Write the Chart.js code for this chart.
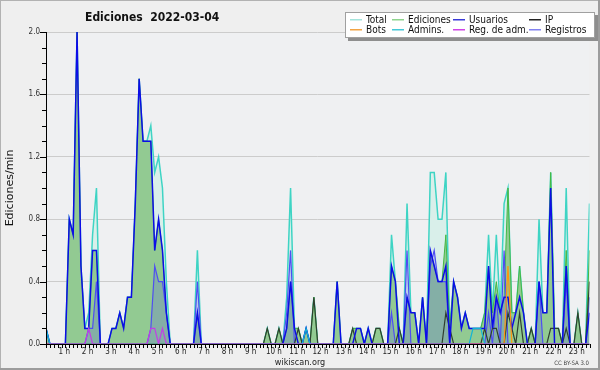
<!DOCTYPE html>
<html>
<head>
<meta charset="utf-8">
<script src="https://cdn.jsdelivr.net/npm/chart.js@4.4.1/dist/chart.umd.min.js"></script>
<style>
  html, body { margin: 0; padding: 0; background: #efefef; }
  #wrap { width: 600px; height: 370px; position: relative; }
</style>
</head>
<body>
<div id="wrap"><canvas id="chart" width="600" height="370"></canvas></div>
<script>
// 10-minute slots from 00:00, one value per slot (edits per minute)
const hourLabels = ['1 h', '2 h', '3 h', '4 h', '5 h', '6 h', '7 h', '8 h', '9 h', '10 h', '11 h', '12 h',
  '13 h', '14 h', '15 h', '16 h', '17 h', '18 h', '19 h', '20 h', '21 h', '22 h', '23 h'];

const total = [
  0.1, 0, 0, 0, 0, 0, 0.8, 0.7, 2.0, 0.5, 0.1, 0.2,
  0.7, 1.0, 0, 0, 0, 0.1, 0.1, 0.2, 0.1, 0.3, 0.3, 0.9,
  1.7, 1.3, 1.3, 1.4, 1.1, 1.2, 1.0, 0.4, 0, 0, 0, 0,
  0, 0, 0, 0.6, 0, 0, 0, 0, 0, 0, 0, 0,
  0, 0, 0, 0, 0, 0, 0, 0, 0, 0.1, 0, 0,
  0.1, 0, 0.3, 1.0, 0.1, 0.1, 0, 0.1, 0, 0.3, 0, 0,
  0, 0, 0, 0.4, 0, 0, 0, 0.1, 0.1, 0.1, 0, 0.1,
  0, 0.1, 0.1, 0, 0, 0.7, 0.4, 0.1, 0, 0.9, 0.2, 0.2,
  0, 0.3, 0, 1.1, 1.1, 0.8, 0.8, 1.1, 0.1, 0.4, 0.3, 0.1,
  0.2, 0.1, 0.1, 0.1, 0.1, 0.2, 0.7, 0.2, 0.7, 0.2, 0.9, 1.0,
  0.2, 0.2, 0.5, 0.2, 0, 0.1, 0, 0.8, 0.2, 0.2, 1.1, 0.1,
  0.1, 0, 1.0, 0, 0, 0.2, 0, 0, 0.9
];
const ediciones = [
  0.1, 0, 0, 0, 0, 0, 0.8, 0.7, 2.0, 0.5, 0.1, 0.1,
  0.6, 0.6, 0, 0, 0, 0.1, 0.1, 0.2, 0.1, 0.3, 0.3, 0.9,
  1.7, 1.3, 1.3, 1.3, 0.6, 0.8, 0.6, 0.2, 0, 0, 0, 0,
  0, 0, 0, 0.2, 0, 0, 0, 0, 0, 0, 0, 0,
  0, 0, 0, 0, 0, 0, 0, 0, 0, 0.1, 0, 0,
  0.1, 0, 0.1, 0.4, 0.1, 0.1, 0, 0.1, 0, 0.3, 0, 0,
  0, 0, 0, 0.4, 0, 0, 0, 0.1, 0.1, 0.1, 0, 0.1,
  0, 0.1, 0.1, 0, 0, 0.5, 0.4, 0.1, 0, 0.3, 0.2, 0.2,
  0, 0.3, 0, 0.6, 0.5, 0.4, 0.4, 0.7, 0.1, 0.4, 0.3, 0.1,
  0.2, 0.1, 0.1, 0.1, 0.1, 0.2, 0.5, 0.2, 0.4, 0.2, 0.3, 1.0,
  0.2, 0.2, 0.5, 0.2, 0, 0.1, 0, 0.4, 0.2, 0.2, 1.1, 0.1,
  0.1, 0, 0.6, 0, 0, 0.2, 0, 0, 0.6
];
const usuarios = [
  0.1, 0, 0, 0, 0, 0, 0.8, 0.7, 2.0, 0.5, 0.1, 0.1,
  0.6, 0.6, 0, 0, 0, 0.1, 0.1, 0.2, 0.1, 0.3, 0.3, 0.9,
  1.7, 1.3, 1.3, 1.3, 0.6, 0.8, 0.6, 0.2, 0, 0, 0, 0,
  0, 0, 0, 0.2, 0, 0, 0, 0, 0, 0, 0, 0,
  0, 0, 0, 0, 0, 0, 0, 0, 0, 0, 0, 0,
  0, 0, 0.1, 0.4, 0.1, 0, 0, 0.1, 0, 0, 0, 0,
  0, 0, 0, 0.4, 0, 0, 0, 0, 0.1, 0.1, 0, 0.1,
  0, 0, 0, 0, 0, 0.5, 0.4, 0, 0, 0.3, 0.2, 0.2,
  0, 0.3, 0, 0.6, 0.5, 0.4, 0.4, 0.5, 0, 0.4, 0.3, 0.1,
  0.2, 0.1, 0.1, 0.1, 0.1, 0.1, 0.5, 0.1, 0.3, 0.2, 0.3, 0.3,
  0.1, 0.2, 0.3, 0.2, 0, 0, 0, 0.4, 0.2, 0.2, 1.0, 0,
  0, 0, 0.5, 0, 0, 0, 0, 0, 0.2
];
const ip = [
  0, 0, 0, 0, 0, 0, 0, 0, 0, 0, 0, 0,
  0, 0, 0, 0, 0, 0, 0, 0, 0, 0, 0, 0,
  0, 0, 0, 0, 0, 0, 0, 0, 0, 0, 0, 0,
  0, 0, 0, 0, 0, 0, 0, 0, 0, 0, 0, 0,
  0, 0, 0, 0, 0, 0, 0, 0, 0, 0.1, 0, 0,
  0.1, 0, 0, 0, 0, 0.1, 0, 0, 0, 0.3, 0, 0,
  0, 0, 0, 0, 0, 0, 0, 0.1, 0, 0, 0, 0,
  0, 0.1, 0.1, 0, 0, 0, 0, 0.1, 0, 0, 0, 0,
  0, 0, 0, 0, 0, 0, 0, 0.2, 0.1, 0, 0, 0,
  0, 0, 0, 0, 0, 0.1, 0, 0.1, 0.1, 0, 0, 0.2,
  0.1, 0, 0.2, 0, 0, 0.1, 0, 0, 0, 0, 0.1, 0.1,
  0.1, 0, 0.1, 0, 0, 0.2, 0, 0, 0.4
];
const bots = [
  0, 0, 0, 0, 0, 0, 0, 0, 0, 0, 0, 0,
  0, 0, 0, 0, 0, 0, 0, 0, 0, 0, 0, 0,
  0, 0, 0, 0, 0, 0, 0, 0, 0, 0, 0, 0,
  0, 0, 0, 0, 0, 0, 0, 0, 0, 0, 0, 0,
  0, 0, 0, 0, 0, 0, 0, 0, 0, 0, 0, 0,
  0, 0, 0, 0, 0, 0, 0, 0, 0, 0, 0, 0,
  0, 0, 0, 0, 0, 0, 0, 0, 0, 0, 0, 0,
  0, 0, 0, 0, 0, 0, 0, 0, 0, 0, 0, 0,
  0, 0, 0, 0, 0, 0, 0, 0, 0, 0, 0, 0,
  0, 0, 0, 0, 0, 0, 0, 0, 0, 0, 0, 0.5,
  0, 0, 0, 0, 0, 0, 0, 0, 0, 0, 0, 0,
  0, 0, 0, 0, 0, 0, 0, 0, 0
];
const admins = [
  0.1, 0, 0, 0, 0, 0, 0, 0, 0, 0, 0, 0,
  0, 0, 0, 0, 0, 0, 0, 0, 0, 0, 0, 0,
  0, 0, 0, 0, 0, 0, 0, 0, 0, 0, 0, 0,
  0, 0, 0, 0, 0, 0, 0, 0, 0, 0, 0, 0,
  0, 0, 0, 0, 0, 0, 0, 0, 0, 0, 0, 0,
  0, 0, 0, 0, 0, 0, 0, 0.1, 0, 0, 0, 0,
  0, 0, 0, 0, 0, 0, 0, 0, 0, 0, 0, 0,
  0, 0, 0, 0, 0, 0, 0, 0, 0, 0, 0, 0,
  0, 0, 0, 0, 0, 0, 0, 0, 0, 0, 0, 0,
  0, 0, 0.1, 0.1, 0.1, 0, 0, 0, 0, 0, 0, 0,
  0, 0, 0, 0, 0, 0, 0, 0, 0, 0, 0, 0,
  0, 0, 0, 0, 0, 0, 0, 0, 0
];
const regAdmin = [
  0, 0, 0, 0, 0, 0, 0, 0, 0, 0, 0, 0.1,
  0, 0, 0, 0, 0, 0, 0, 0, 0, 0, 0, 0,
  0, 0, 0, 0.1, 0.1, 0, 0.1, 0, 0, 0, 0, 0,
  0, 0, 0, 0, 0, 0, 0, 0, 0, 0, 0, 0,
  0, 0, 0, 0, 0, 0, 0, 0, 0, 0, 0, 0,
  0, 0, 0, 0, 0, 0, 0, 0, 0, 0, 0, 0,
  0, 0, 0, 0, 0, 0, 0, 0, 0, 0, 0, 0,
  0, 0, 0, 0, 0, 0, 0, 0, 0, 0, 0, 0,
  0, 0, 0, 0, 0, 0, 0, 0, 0, 0, 0, 0,
  0, 0, 0, 0, 0, 0, 0, 0, 0, 0, 0, 0,
  0, 0, 0, 0, 0, 0, 0, 0, 0, 0, 0, 0,
  0, 0, 0, 0, 0, 0, 0, 0, 0
];
const registros = [
  0, 0, 0, 0, 0, 0, 0, 0, 0, 0, 0, 0.1,
  0.1, 0.4, 0, 0, 0, 0, 0, 0, 0, 0, 0, 0,
  0, 0, 0, 0.1, 0.5, 0.4, 0.4, 0.2, 0, 0, 0, 0,
  0, 0, 0, 0.4, 0, 0, 0, 0, 0, 0, 0, 0,
  0, 0, 0, 0, 0, 0, 0, 0, 0, 0, 0, 0,
  0, 0, 0.2, 0.6, 0, 0, 0, 0, 0, 0, 0, 0,
  0, 0, 0, 0, 0, 0, 0, 0, 0, 0, 0, 0,
  0, 0, 0, 0, 0, 0.2, 0, 0, 0, 0.6, 0, 0,
  0, 0, 0, 0.5, 0.6, 0.4, 0.4, 0.4, 0, 0, 0, 0,
  0, 0, 0, 0, 0, 0, 0.2, 0, 0.3, 0, 0.6, 0,
  0, 0, 0, 0, 0, 0, 0, 0.4, 0, 0, 0, 0,
  0, 0, 0.4, 0, 0, 0, 0, 0, 0.3
];

const FONT = '"DejaVu Sans Condensed", "DejaVu Sans", sans-serif';

const legendItems = [
  { label: 'Total', color: '#a4e4dc', x: 350, row: 0 },
  { label: 'Ediciones', color: '#8ed48e', x: 392, row: 0 },
  { label: 'Usuarios', color: '#3a3ad8', x: 453, row: 0 },
  { label: 'IP', color: '#222222', x: 529, row: 0 },
  { label: 'Bots', color: '#f2a444', x: 350, row: 1 },
  { label: 'Admins.', color: '#44c8d8', x: 392, row: 1 },
  { label: 'Reg. de adm.', color: '#d044e6', x: 453, row: 1 },
  { label: 'Registros', color: '#8282f0', x: 529, row: 1 }
];

const toPoints = arr => arr.map((v, i) => ({ x: i, y: v }));

function lineSet(label, data, color, width, order, fillColor) {
  return {
    label,
    data: toPoints(data),
    borderColor: color,
    borderWidth: width,
    backgroundColor: fillColor || 'transparent',
    fill: fillColor ? 'origin' : false,
    pointRadius: 0,
    tension: 0,
    order
  };
}

const decor = {
  id: 'decor',
  beforeDraw(chart) {
    const { ctx, chartArea: a } = chart;
    ctx.save();
    ctx.fillStyle = '#efefef';
    ctx.fillRect(0, 0, 600, 370);
    ctx.fillStyle = '#eff0f2';
    ctx.fillRect(a.left, a.top, a.right - a.left, a.bottom - a.top);
    ctx.restore();
  },
  afterDatasetsDraw(chart) {
    const { ctx, chartArea: a, scales: { x, y } } = chart;
    ctx.save();
    ctx.strokeStyle = '#000';
    ctx.lineWidth = 1;
    ctx.beginPath();
    ctx.moveTo(a.left + 0.5, a.top);
    ctx.lineTo(a.left + 0.5, a.bottom + 0.5);
    ctx.lineTo(a.right, a.bottom + 0.5);
    // y ticks every 0.1, longer on labelled ones
    for (let k = 0; k <= 20; k++) {
      const py = Math.round(y.getPixelForValue(k / 10)) + 0.5;
      const len = k % 4 === 0 ? 6 : 4;
      ctx.moveTo(a.left - len, py);
      ctx.lineTo(a.left, py);
    }
    // x ticks every slot
    for (let i = 0; i < total.length; i++) {
      const px = Math.round(x.getPixelForValue(i)) + 0.5;
      ctx.moveTo(px, a.bottom);
      ctx.lineTo(px, a.bottom + 4);
    }
    ctx.stroke();
    ctx.restore();
  },
  afterDraw(chart) {
    const { ctx } = chart;
    ctx.save();
    // frame
    ctx.fillStyle = '#b2b2b2';
    ctx.fillRect(0, 0, 600, 1);
    ctx.fillRect(0, 0, 1, 370);
    ctx.fillStyle = '#9c9c9c';
    ctx.fillRect(598, 0, 2, 370);
    ctx.fillRect(0, 368, 600, 2);

    // title
    ctx.fillStyle = '#111';
    ctx.font = 'bold 12px ' + FONT;
    ctx.textBaseline = 'alphabetic';
    ctx.textAlign = 'left';
    ctx.fillText('Ediciones  2022-03-04', 85, 21);

    // y axis title
    ctx.save();
    ctx.translate(13, 188);
    ctx.rotate(-Math.PI / 2);
    ctx.textAlign = 'center';
    ctx.font = '11px "DejaVu Sans", sans-serif';
    ctx.fillText('Ediciones/min', 0, 0);
    ctx.restore();

    // legend box
    ctx.fillStyle = '#8e8e8e';
    ctx.fillRect(348, 15, 250, 26);
    ctx.fillStyle = '#ffffff';
    ctx.fillRect(345, 12, 250, 26);
    ctx.strokeStyle = '#a0a0a0';
    ctx.lineWidth = 1;
    ctx.strokeRect(345.5, 12.5, 249, 25);
    ctx.font = '10px ' + FONT;
    legendItems.forEach(item => {
      const ly = item.row === 0 ? 19 : 29;
      ctx.fillStyle = item.color;
      ctx.fillRect(item.x, ly, 12, 1.5);
      ctx.fillStyle = '#111';
      ctx.fillText(item.label, item.x + 16, ly + 4);
    });

    // footer
    ctx.fillStyle = '#222';
    ctx.textAlign = 'center';
    ctx.font = '9px ' + FONT;
    ctx.fillText('wikiscan.org', 300, 365);
    ctx.textAlign = 'right';
    ctx.font = '6px ' + FONT;
    ctx.fillStyle = '#444';
    ctx.fillText('CC BY-SA 3.0', 589, 365);
    ctx.restore();
  }
};

new Chart(document.getElementById('chart'), {
  type: 'line',
  data: {
    datasets: [
      lineSet('Reg. de adm.', regAdmin, '#c23ee6', 1.2, 0),
      lineSet('Admins.', admins, '#12b4d6', 1.2, 1),
      lineSet('Bots', bots, '#ff9410', 1.2, 2),
      lineSet('Usuarios', usuarios, '#0c0ce8', 1.5, 3),
      lineSet('IP', ip, '#2f3f30', 1.2, 4),
      lineSet('Registros', registros, '#4e4ef2', 1.2, 5, 'rgba(80, 80, 235, 0.22)'),
      lineSet('Ediciones', ediciones, '#44b844', 1, 6, '#92ca92'),
      lineSet('Total', total, '#3ed4c4', 1.5, 7, '#d9efea')
    ]
  },
  options: {
    responsive: false,
    animation: false,
    layout: { padding: { left: 0, right: 10.5, top: 32, bottom: 0 } },
    plugins: {
      legend: { display: false },
      tooltip: { enabled: false }
    },
    scales: {
      x: {
        type: 'linear',
        min: 0,
        max: total.length - 1,
        border: { display: false },
        grid: { display: false, drawTicks: false },
        afterBuildTicks: scale => {
          scale.ticks = hourLabels.map((_, h) => ({ value: (h + 1) * 6 }));
        },
        ticks: {
          autoSkip: false,
          maxRotation: 0,
          minRotation: 0,
          padding: 3,
          labelOffset: -5,
          color: '#222',
          font: { family: FONT, size: 8 },
          callback: v => hourLabels[v / 6 - 1]
        },
        afterFit: scale => { scale.height = 26; }
      },
      y: {
        min: 0,
        max: 2,
        border: { display: false },
        grid: {
          drawTicks: false,
          color: c => {
            const k = Math.round(c.tick.value * 10);
            return k > 0 && k % 4 === 0 ? '#cccccc' : 'transparent';
          }
        },
        ticks: {
          stepSize: 0.1,
          autoSkip: false,
          padding: 6,
          color: '#333',
          font: { family: FONT, size: 8 },
          callback: v => {
            const k = Math.round(v * 10);
            return k % 4 === 0 ? (k / 10).toFixed(1) : '';
          }
        },
        afterFit: scale => { scale.width = 46; }
      }
    }
  },
  plugins: [decor]
});
</script>
</body>
</html>
